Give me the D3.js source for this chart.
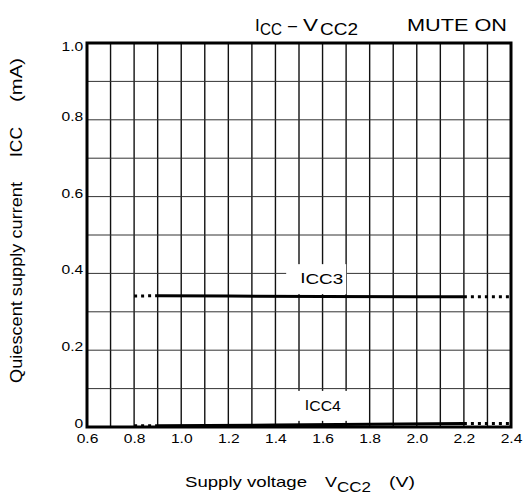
<!DOCTYPE html>
<html>
<head>
<meta charset="utf-8">
<script src="https://cdn.jsdelivr.net/npm/d3@7"></script>
<style>
  body { margin: 0; background: #fff; }
  text { font-family: "Liberation Sans", Arial, sans-serif; fill: #000; }
</style>
</head>
<body>
<div id="chart"></div>
<script>
// data
var xTicks = [0.6, 0.8, 1.0, 1.2, 1.4, 1.6, 1.8, 2.0, 2.2, 2.4];
var yTicks = [0, 0.2, 0.4, 0.6, 0.8, 1.0];

var icc3V = [0.9, 1.2, 1.6, 2.0, 2.2];
var icc3I = [0.342, 0.341, 0.340, 0.339, 0.339];
var icc3DotL = [[0.8, 0.341], [0.9, 0.342]];
var icc3DotR = [[2.2, 0.339], [2.4, 0.339]];

var icc4V = [0.9, 1.4, 1.8, 2.2];
var icc4I = [0.003, 0.005, 0.007, 0.009];
var icc4DotL = [[0.8, 0.003], [0.9, 0.003]];
var icc4DotR = [[2.2, 0.009], [2.4, 0.009]];

var curveNames = ["ICC3", "ICC4"];
var labelV = [1.505, 1.525];
var labelI = [0.372, 0.042];

var margin = {top: 43, right: 12, bottom: 72, left: 87};
const width = 523 - margin.left - margin.right;
const height = 499 - margin.top - margin.bottom;

var svg = d3.select('#chart').append("svg")
    .attr("width", 523)
    .attr("height", 499);

var g = svg.append("g")
    .attr("transform", `translate(${margin.left},${margin.top})`);

const xScale = d3.scaleLinear().domain([0.6, 2.4]).range([0, width]);
const yScale = d3.scaleLinear().domain([0, 1.0]).range([height, 0]);

// grid
g.append("g").selectAll("line")
    .data(d3.range(7, 24).map(function(i) { return i / 10; }))
    .enter().append("line")
    .attr("x1", function(d) { return xScale(d); })
    .attr("x2", function(d) { return xScale(d); })
    .attr("y1", 0).attr("y2", height)
    .attr("stroke", "#111")
    .attr("stroke-width", 1.4);

g.append("g").selectAll("line")
    .data(d3.range(1, 10).map(function(i) { return i / 10; }))
    .enter().append("line")
    .attr("x1", 0).attr("x2", width)
    .attr("y1", function(d) { return yScale(d); })
    .attr("y2", function(d) { return yScale(d); })
    .attr("stroke", "#333")
    .attr("stroke-width", 1);

// tick labels
var xAxis = g.append("g")
    .attr("transform", "translate(0," + height + ")")
    .call(d3.axisBottom(xScale).tickValues(xTicks).tickSize(0).tickPadding(7)
        .tickFormat(d3.format(".1f")));
xAxis.select(".domain").remove();
xAxis.selectAll("text")
    .style("font-size", "12.5px").attr("font-family", null)
    .attr("transform", "scale(1.25,1)");

var yAxis = g.append("g")
    .call(d3.axisLeft(yScale).tickValues(yTicks).tickSize(0).tickPadding(3)
        .tickFormat(function(d) { return d === 0 ? "0" : d3.format(".1f")(d); }));
yAxis.select(".domain").remove();
yAxis.selectAll("text")
    .style("font-size", "12.5px").attr("font-family", null)
    .attr("transform", "scale(1.25,1)")
    .attr("dy", function(d) { return d === 1 ? "7.5px" : "0.5px"; });

// curves
var line = d3.line()
    .x(function(d) { return xScale(d[0]); })
    .y(function(d) { return yScale(d[1]); });

function drawCurve(vs, is, dotL, dotR) {
    g.append("path")
        .datum(d3.zip(vs, is))
        .attr("d", line)
        .attr("fill", "none")
        .attr("stroke", "#000")
        .attr("stroke-width", 3);
    [dotL, dotR].forEach(function(seg) {
        g.append("path")
            .datum(seg)
            .attr("d", line)
            .attr("fill", "none")
            .attr("stroke", "#000")
            .attr("stroke-width", 3)
            .attr("stroke-dasharray", "3,4");
    });
}
drawCurve(icc3V, icc3I, icc3DotL, icc3DotR);
drawCurve(icc4V, icc4I, icc4DotL, icc4DotR);

// curve labels with white box behind
curveNames.forEach(function(name, k) {
    var x = xScale(labelV[k]), y = yScale(labelI[k]);
    g.append("rect")
        .attr("x", x - 14).attr("y", y - 20)
        .attr("width", 60).attr("height", 30)
        .attr("fill", "#fff");
    var t = g.append("text")
        .attr("x", x).attr("y", y)
        .style("font-size", "14px");
    t.append("tspan").text("I").attr("dy", -1);
    t.append("tspan").text(name.slice(1)).attr("dy", 1);
    t.attr("textLength", k === 0 ? 43 : 36).attr("lengthAdjust", "spacingAndGlyphs");
});

// frame
g.append("rect")
    .attr("x", 0).attr("y", 0)
    .attr("width", width).attr("height", height)
    .attr("fill", "none")
    .attr("stroke", "#000")
    .attr("stroke-width", 3);

// text helper: fixed start, baseline and length
function label(x, y, txt, size, len) {
    var t = svg.append("text")
        .attr("x", x).attr("y", y)
        .style("font-size", size + "px")
        .text(txt);
    if (len) t.attr("textLength", len).attr("lengthAdjust", "spacingAndGlyphs");
    return t;
}

// title
label(255, 31, "I", 17);
label(260, 35, "CC", 16, 22);
label(288, 31, "\u2013", 17, 9);
label(303, 31, "V", 17, 15);
label(320, 35, "CC2", 16, 38);
label(407, 31, "MUTE ON", 17, 100);

// x label
label(185, 487, "Supply voltage", 15, 122);
label(325, 487, "V", 15, 12);
label(337, 492, "CC2", 15, 34);
label(389, 487, "(V)", 15, 26);

// y label (rotated)
function ylabel(yStart, txt, len) {
    svg.append("text")
        .attr("transform", "translate(22," + yStart + ") rotate(-90)")
        .style("font-size", "16px")
        .attr("textLength", len).attr("lengthAdjust", "spacingAndGlyphs")
        .text(txt);
}
ylabel(383, "Quiescent supply current", 201);
ylabel(157, "ICC", 30);
ylabel(102, "(mA)", 44);
</script>
</body>
</html>
